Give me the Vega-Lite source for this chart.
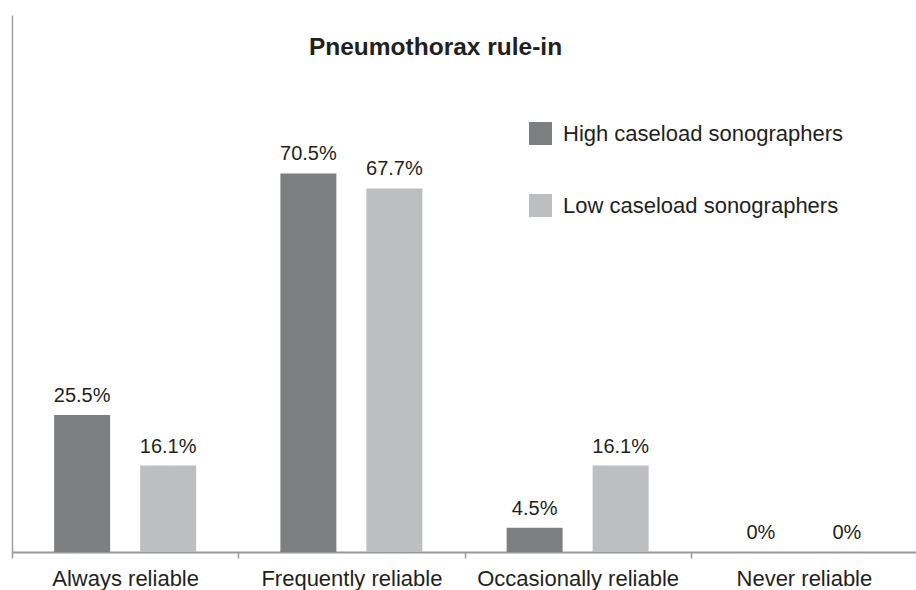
{
  "$schema": "https://vega.github.io/schema/vega-lite/v6.json",
  "width": 905,
  "height": 537,
  "autosize": "none",
  "padding": {"left": 12, "top": 15, "right": 0, "bottom": 38},
  "background": "white",
  "config": {
    "font": "Liberation Sans",
    "view": {"stroke": null}
  },
  "title": {
    "text": "Pneumothorax rule-in",
    "fontSize": 24.5,
    "fontWeight": "bold",
    "color": "#231f20",
    "anchor": "middle",
    "baseline": "alphabetic",
    "dx": -29,
    "dy": 64,
    "offset": 0
  },
  "data": {
    "values": [
      {"category": "Always reliable", "group": "High caseload sonographers", "value": 25.5, "label": "25.5%"},
      {"category": "Always reliable", "group": "Low caseload sonographers", "value": 16.1, "label": "16.1%"},
      {"category": "Frequently reliable", "group": "High caseload sonographers", "value": 70.5, "label": "70.5%"},
      {"category": "Frequently reliable", "group": "Low caseload sonographers", "value": 67.7, "label": "67.7%"},
      {"category": "Occasionally reliable", "group": "High caseload sonographers", "value": 4.5, "label": "4.5%"},
      {"category": "Occasionally reliable", "group": "Low caseload sonographers", "value": 16.1, "label": "16.1%"},
      {"category": "Never reliable", "group": "High caseload sonographers", "value": 0, "label": "0%"},
      {"category": "Never reliable", "group": "Low caseload sonographers", "value": 0, "label": "0%"}
    ]
  },
  "encoding": {
    "x": {
      "field": "category",
      "type": "nominal",
      "sort": ["Always reliable", "Frequently reliable", "Occasionally reliable", "Never reliable"],
      "scale": {"paddingInner": 0, "paddingOuter": 0},
      "axis": {
        "title": null,
        "labelAngle": 0,
        "labelFontSize": 22,
        "labelColor": "#231f20",
        "labelBaseline": "alphabetic",
        "labelPadding": 27,
        "labelLimit": 400,
        "tickSize": 6,
        "tickBand": "extent",
        "tickColor": "#9a9a9a",
        "tickWidth": 1.5,
        "domainColor": "#9a9a9a",
        "domainWidth": 2,
        "grid": false
      }
    },
    "xOffset": {
      "field": "group",
      "type": "nominal",
      "scale": {"paddingInner": 0.349, "paddingOuter": 0.49}
    },
    "y": {
      "field": "value",
      "type": "quantitative",
      "scale": {"domain": [0, 100], "nice": false},
      "axis": {
        "title": null,
        "labels": false,
        "ticks": false,
        "grid": false,
        "domainColor": "#a0a0a0",
        "domainWidth": 1.5
      }
    }
  },
  "layer": [
    {
      "mark": {"type": "bar"},
      "encoding": {
        "color": {
          "field": "group",
          "type": "nominal",
          "scale": {
            "domain": ["High caseload sonographers", "Low caseload sonographers"],
            "range": ["#7d7e82", "#bdbec2"]
          },
          "legend": {
            "title": null,
            "orient": "none",
            "legendX": 517,
            "legendY": 107,
            "padding": 0,
            "symbolType": "square",
            "symbolSize": 529,
            "symbolStrokeWidth": 0,
            "labelFontSize": 22,
            "labelColor": "#231f20",
            "labelOffset": 11,
            "rowPadding": 49,
            "labelLimit": 400
          }
        }
      }
    },
    {
      "mark": {"type": "text", "baseline": "alphabetic", "dy": -13, "fontSize": 20, "color": "#231f20"},
      "encoding": {
        "text": {"field": "label", "type": "nominal"}
      }
    }
  ]
}
